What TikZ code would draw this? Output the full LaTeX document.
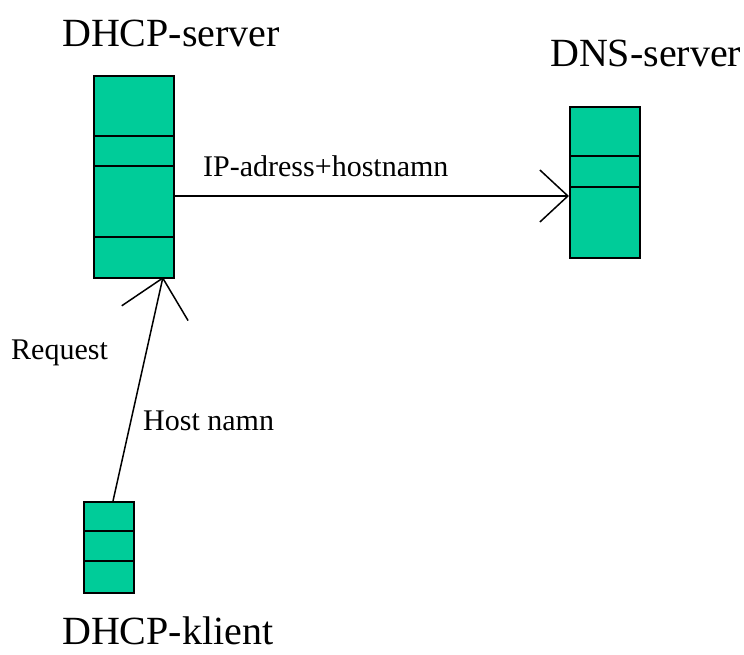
\documentclass[tikz,border=0pt]{standalone}
\usepackage{fontspec}
\setmainfont{Liberation Serif}
\usetikzlibrary{arrows.meta}
\definecolor{boxgreen}{HTML}{00CC99}

\tikzset{
  srvbox/.style={draw,fill=boxgreen,line width=1.5pt,inner sep=0pt,anchor=north west},
  bigtext/.style={font=\fontsize{40}{40}\selectfont,inner sep=0pt,anchor=base west},
  smalltext/.style={font=\fontsize{30}{30}\selectfont,inner sep=0pt,anchor=base west},
  conn/.style={line width=1.5pt},
}

\begin{document}
\begin{tikzpicture}[x=1pt,y=-1pt]
  \useasboundingbox (0,0) rectangle (744,654);
  % boxes
  \node[srvbox,minimum width=80pt,minimum height=202pt] (dhcp) at (93,75) {};
  \node[srvbox,minimum width=70pt,minimum height=151pt] (dns) at (569,106) {};
  \node[srvbox,minimum width=50pt,minimum height=91pt] (klient) at (83,501) {};
  \draw[conn] (93,136) -- (173,136);
  \draw[conn] (93,166) -- (173,166);
  \draw[conn] (93,237) -- (175,237);
  \draw[conn] (569,156) -- (640,156);
  \draw[conn] (569,187) -- (640,187);
  \draw[conn] (83,531) -- (133,531);
  \draw[conn] (83,561) -- (133,561);
  % labels
  \node[bigtext] (dhcplbl) at (62,46) {DHCP-server};
  \node[bigtext] (dnslbl) at (550,66) {DNS-server};
  \node[bigtext] (klientlbl) at (62,644) {DHCP-klient};
  \node[smalltext] (iplbl) at (203,176) {IP-adress+hostnamn};
  \node[smalltext] (reqlbl) at (11,359) {Request};
  \node[smalltext] (hostlbl) at (143,430) {Host namn};
  % connectors
  \coordinate (dhcpin) at (163,277);
  \coordinate (klientout) at (113,501);
  \draw[conn,-{Straight Barb[length=28pt,width=52pt,line width=1.5pt]}] (dhcp.east |- 0,196) -- (dns.west |- 0,196);
  \draw[conn,-{Straight Barb[length=36pt,width=68pt,line width=1.5pt]}] (klientout) -- (dhcpin);
\end{tikzpicture}
\end{document}
